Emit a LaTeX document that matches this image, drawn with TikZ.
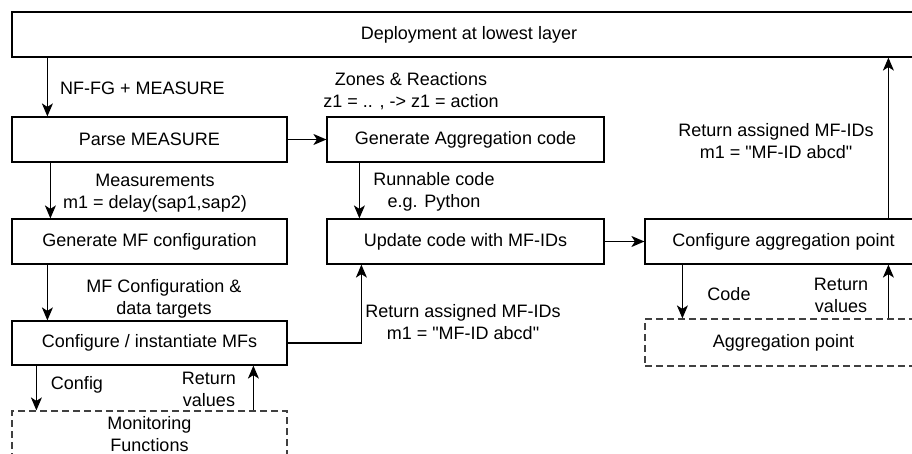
\documentclass[tikz,border=0pt]{standalone}
\usepackage{fontspec}
\newfontfamily\diagfont{Liberation Sans}
\usetikzlibrary{arrows.meta}
\begin{document}
\begin{tikzpicture}[x=1pt,y=-1pt, font=\diagfont\fontsize{18}{22}\selectfont,
  box/.style={draw, line width=1.2pt, minimum height=45pt, inner sep=0pt},
  dbox/.style={draw=black!75, dash pattern=on 7pt off 4pt, line width=1.2pt, inner sep=0pt},
  arr/.style={-{Stealth[length=13pt,width=11pt,inset=3.5pt]}, line width=1.2pt},
  lbl/.style={inner sep=0pt, align=center}]
\useasboundingbox (0,0) rectangle (912,454);
\clip (0,0) rectangle (912,454);

% boxes
\node[box, minimum width=914pt] (top) at (469,34.5) {Deployment at lowest layer};
\node[box, minimum width=275pt] (parse) at (149.5,139.5) {Parse MEASURE};
\node[box, minimum width=277pt] (genagg) at (465.5,139.5) {Generate Aggregation code};
\node[box, minimum width=275pt] (genmf) at (149.5,241.5) {Generate MF configuration};
\node[box, minimum width=277pt] (update) at (465.5,241.5) {Update code with MF-IDs};
\node[box, minimum width=277pt] (confagg) at (783.5,241.5) {Configure aggregation point};
\node[box, minimum width=275pt, minimum height=44pt] (confmf) at (149.5,343) {Configure / instantiate MFs};
\node[dbox, minimum width=275pt, minimum height=46pt, align=center] (mon) at (149.5,434) {Monitoring\\Functions};
\node[dbox, minimum width=277pt, minimum height=47pt] (aggpt) at (783.5,342.5) {Aggregation point};

% labels
\node[lbl, anchor=west] (l1) at (60,88) {NF-FG + MEASURE};
\node[lbl] (l2) at (411,91) {Zones \& Reactions\\z1 = .. , -> z1 = action};
\node[lbl] (l3) at (155,193) {Measurements\\m1 = delay(sap1,sap2)};
\node[lbl] (l4) at (434,192) {Runnable code\\e.g. Python};
\node[lbl] (l5) at (164,299) {MF Configuration \&\\data targets};
\node[lbl] (l6) at (463,322) {Return assigned MF-IDs\\m1 = "MF-ID abcd"};
\node[lbl] (l7) at (776,141) {Return assigned MF-IDs\\m1 = "MF-ID abcd"};
\node[lbl] (l8) at (77,385) {Config};
\node[lbl] (l9) at (209,389) {Return\\values};
\node[lbl] (l10) at (729,294) {Code};
\node[lbl] (l11) at (841,295) {Return\\values};

% connector anchor coordinates
\coordinate (a1) at ([xshift=36pt]parse.north west);
\coordinate (a2) at ([xshift=39pt]parse.south west);
\coordinate (a3) at ([xshift=33pt]genagg.south west);
\coordinate (a4) at ([xshift=36pt]genmf.south west);
\coordinate (a5) at ([xshift=35pt]update.south west);
\coordinate (a6) at ([xshift=244pt]confagg.north west);
\coordinate (a7) at ([xshift=25pt]confmf.south west);
\coordinate (a8) at ([xshift=242pt]confmf.south west);
\coordinate (a9) at ([xshift=38pt]confagg.south west);
\coordinate (a10) at ([xshift=244pt]confagg.south west);

% connectors
\draw[arr] (a1 |- top.south) -- (a1);
\draw[arr] (a2) -- (a2 |- genmf.north);
\draw[arr] (parse.east) -- (genagg.west);
\draw[arr] (a3) -- (a3 |- update.north);
\draw[arr] (a4) -- (a4 |- confmf.north);
\draw[arr] (confmf.east) -| (a5);
\draw[arr] (update.east) -- (confagg.west);
\draw[arr] (a6) -- (a6 |- top.south);
\draw[arr] (a7) -- (a7 |- mon.north);
\draw[arr] (a8 |- mon.north) -- (a8);
\draw[arr] (a9) -- (a9 |- aggpt.north);
\draw[arr] (a10 |- aggpt.north) -- (a10);
\end{tikzpicture}
\end{document}
